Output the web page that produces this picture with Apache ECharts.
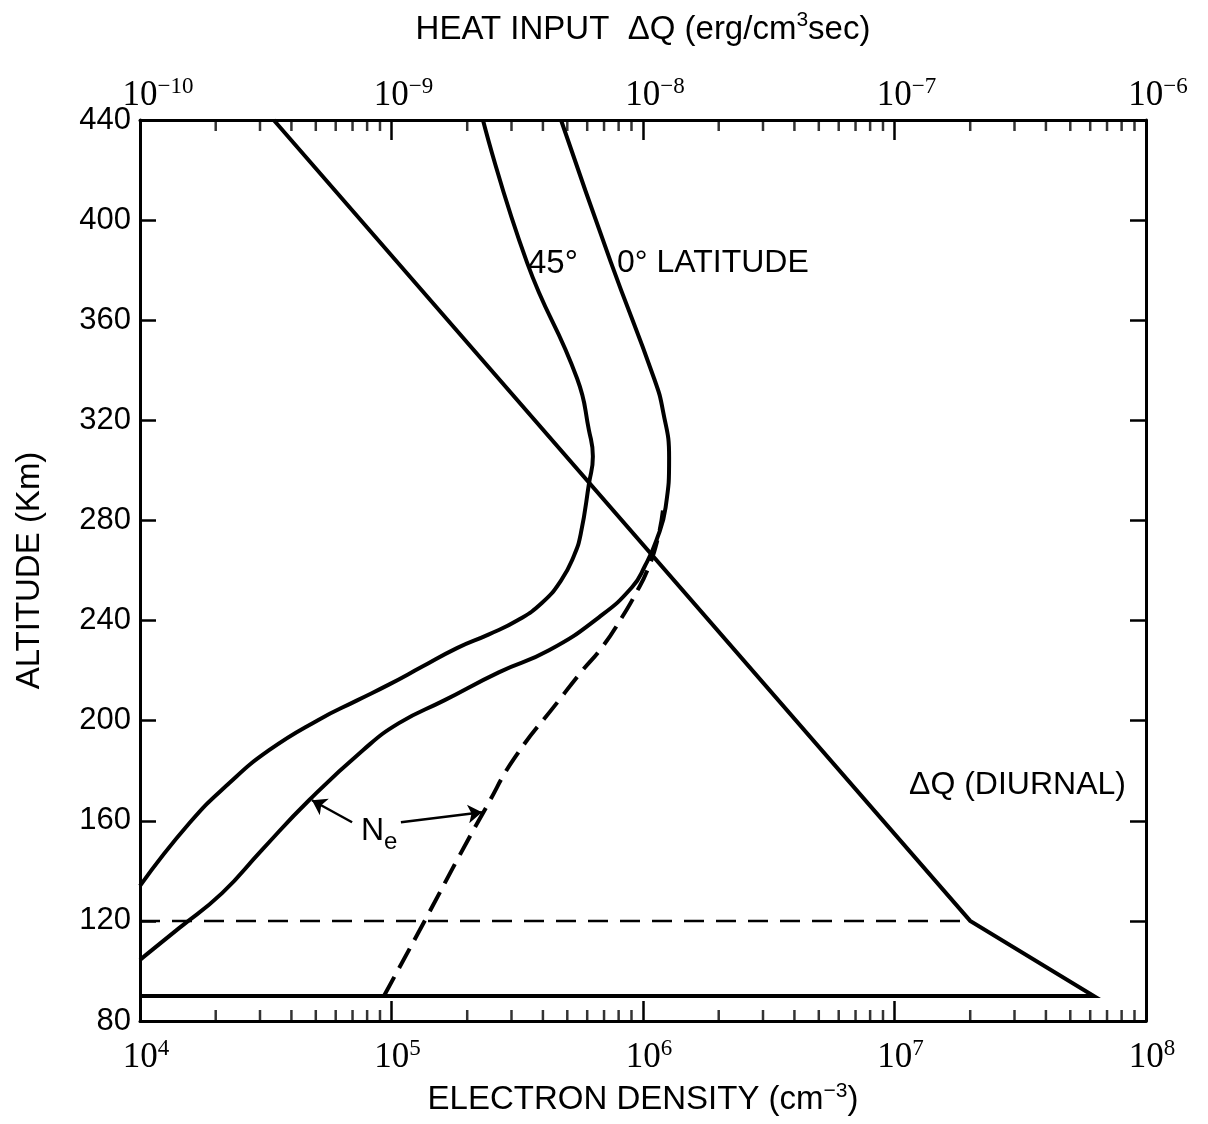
<!DOCTYPE html>
<html>
<head>
<meta charset="utf-8">
<title>Electron density and heat input vs altitude</title>
<script src="https://cdn.jsdelivr.net/npm/echarts@6/dist/echarts.min.js"></script>
<style>
  html, body { margin: 0; padding: 0; background: #fff; }
  #chart { width: 1208px; height: 1124px; }
</style>
</head>
<body>
<div id="chart"></div>
<script>
// altitude ticks (km)
const ALT_TICKS = [80, 120, 160, 200, 240, 280, 320, 360, 400, 440];

// N_e, 45 deg latitude  (altitude km / electron density cm^-3)
const LAT45_ALT = [440, 383, 336.7, 315.9, 305.5, 294.8, 274.8, 266, 256, 247, 240, 234.5, 229, 221.3, 214.5, 208.1, 200.2, 188.2, 175, 159, 134];
const LAT45_NE  = [2.31e5, 3.46e5, 5.47e5, 6.10e5, 6.32e5, 6.10e5, 5.66e5, 5.32e5, 4.72e5, 3.96e5, 3.16e5, 2.44e5, 1.82e5, 1.31e5, 9.8e4, 7.3e4, 5.1e4, 3.26e4, 2.26e4, 1.57e4, 1.0e4];

// N_e, 0 deg latitude
const LAT0_ALT = [440, 383, 336.7, 323.9, 305.1, 285.2, 272, 262, 253.3, 241.3, 228.1, 219.3, 208.1, 199, 188.2, 168.2, 148.3, 131.1, 117.1, 107.5, 104.4];
const LAT0_NE  = [4.72e5, 7.46e5, 1.107e6, 1.20e6, 1.27e6, 1.23e6, 1.13e6, 1.02e6, 9.04e5, 6.68e5, 4.23e5, 2.67e5, 1.62e5, 1.07e5, 7.7e4, 4.70e4, 3.05e4, 2.12e4, 1.43e4, 1.09e4, 1.0e4];

// N_e, dashed profile
const DASH_ALT = [90, 121.5, 145.5, 165.4, 185.4, 208.1, 219.3, 229.3, 241.3, 250.9, 260, 272, 284];
const DASH_NE  = [9.33e4, 1.38e5, 1.85e5, 2.38e5, 3.10e5, 4.63e5, 5.66e5, 6.87e5, 8.25e5, 9.37e5, 1.04e6, 1.14e6, 1.20e6];

// heat input dQ (diurnal), erg/cm^3 sec
const HEAT_ALT = [440, 120, 90, 90];
const HEAT_DQ  = [3.4e-10, 2.0e-7, 6.2e-7, 1.0e-10];

// dashed level at 120 km
const LEVEL120_NE = [1.0e4, 2.0e7];
const LEVEL120_ALT = [120, 120];

const TEXT_FONT = "'Liberation Sans Narrow', 'Liberation Sans', Arial, sans-serif";
const NUM_FONT = "'Liberation Serif', 'DejaVu Serif', serif";

const zip = (xs, ys) => xs.map((x, i) => [x, ys[i]]);

// minor log ticks 2..9 per decade
const minorTicks = (fromExp, toExp) => {
  const out = [];
  for (let e = fromExp; e < toExp; e++) {
    for (let k = 2; k <= 9; k++) out.push(k * Math.pow(10, e));
  }
  return out;
};

const powLabel = (value) => {
  const e = String(Math.round(Math.log10(value))).replace('-', '\u2212');
  return '{p' + e.length + '|}{b|10}{s|' + e + '}';
};

const powRich = {
  b: { fontFamily: NUM_FONT, fontSize: 35, lineHeight: 42, color: '#000' },
  s: { fontFamily: NUM_FONT, fontSize: 23, lineHeight: 20, verticalAlign: 'top', color: '#000' },
  p1: { width: 12 },
  p2: { width: 24 },
  p3: { width: 36 }
};

const chart = echarts.init(document.getElementById('chart'));

const axisLineStyle = { color: '#000', width: 3 };
const supRich = { s: { fontFamily: TEXT_FONT, fontSize: 21, lineHeight: 22, verticalAlign: 'top', color: '#000' } };

const option = {
  backgroundColor: '#fff',
  animation: false,
  grid: { left: 140, right: 62, top: 120, bottom: 103, outerBoundsMode: 'none', containLabel: false },
  xAxis: [
    {
      type: 'log',
      min: 1e4,
      max: 1e8,
      position: 'bottom',
      name: 'ELECTRON DENSITY (cm{s|\u22123})',
      nameLocation: 'middle',
      nameGap: 59,
      nameTextStyle: { fontFamily: TEXT_FONT, fontSize: 33, color: '#000', lineHeight: 40, rich: supRich },
      axisLine: { lineStyle: axisLineStyle },
      axisTick: { inside: true, length: 20, lineStyle: { width: 2.5, color: '#000' } },
      axisLabel: { margin: 16, fontFamily: NUM_FONT, fontSize: 35, color: '#000', formatter: powLabel, rich: powRich },
      splitLine: { show: false }
    },
    {
      type: 'log',
      min: 1e-10,
      max: 1e-6,
      position: 'top',
      name: 'HEAT INPUT  \u0394Q (erg/cm{s|3}sec)',
      nameLocation: 'middle',
      nameGap: 70,
      nameTextStyle: { fontFamily: TEXT_FONT, fontSize: 33, color: '#000', lineHeight: 40, rich: supRich },
      axisLine: { lineStyle: axisLineStyle },
      axisTick: { inside: true, length: 20, lineStyle: { width: 2.5, color: '#000' } },
      axisLabel: { margin: 3, fontFamily: NUM_FONT, fontSize: 35, color: '#000', formatter: powLabel, rich: powRich },
      splitLine: { show: false }
    }
  ],
  yAxis: [
    {
      type: 'value',
      min: ALT_TICKS[0],
      max: ALT_TICKS[ALT_TICKS.length - 1],
      interval: 40,
      position: 'left',
      name: 'ALTITUDE (Km)',
      nameLocation: 'middle',
      nameGap: 94,
      nameTextStyle: { fontFamily: TEXT_FONT, fontSize: 33, color: '#000' },
      axisLine: { lineStyle: axisLineStyle },
      axisTick: { inside: true, length: 16, lineStyle: { width: 2.5, color: '#000' } },
      axisLabel: { margin: 9, fontFamily: "'Liberation Sans', Arial, sans-serif", fontSize: 31, color: '#000' },
      splitLine: { show: false }
    },
    {
      type: 'value',
      min: ALT_TICKS[0],
      max: ALT_TICKS[ALT_TICKS.length - 1],
      interval: 40,
      position: 'right',
      axisLine: { show: true, lineStyle: axisLineStyle },
      axisTick: { show: true, inside: true, length: 16, lineStyle: { width: 2.5, color: '#000' } },
      axisLabel: { show: false },
      splitLine: { show: false }
    }
  ],
  series: [
    {
      name: 'minor ticks bottom',
      type: 'scatter',
      silent: true,
      clip: false,
      symbol: 'rect',
      symbolSize: [2.5, 11],
      symbolOffset: [0, -5.5],
      itemStyle: { color: '#000' },
      data: minorTicks(4, 8).map(v => [v, ALT_TICKS[0]])
    },
    {
      name: 'minor ticks top',
      type: 'scatter',
      xAxisIndex: 1,
      silent: true,
      clip: false,
      symbol: 'rect',
      symbolSize: [2.5, 11],
      symbolOffset: [0, 5.5],
      itemStyle: { color: '#000' },
      data: minorTicks(-10, -6).map(v => [v, ALT_TICKS[ALT_TICKS.length - 1]])
    },
    {
      name: 'Ne 45\u00b0',
      type: 'line',
      showSymbol: false,
      smooth: 0.5,
      lineStyle: { color: '#000', width: 4 },
      data: zip(LAT45_NE, LAT45_ALT)
    },
    {
      name: 'Ne 0\u00b0',
      type: 'line',
      showSymbol: false,
      smooth: 0.5,
      lineStyle: { color: '#000', width: 4 },
      data: zip(LAT0_NE, LAT0_ALT)
    },
    {
      name: 'Ne dashed',
      type: 'line',
      showSymbol: false,
      smooth: 0.5,
      lineStyle: { color: '#000', width: 4, type: [22, 10] },
      data: zip(DASH_NE, DASH_ALT)
    },
    {
      name: '120 km',
      type: 'line',
      showSymbol: false,
      lineStyle: { color: '#000', width: 2.5, type: [20, 12] },
      data: zip(LEVEL120_NE, LEVEL120_ALT)
    },
    {
      name: '\u0394Q (diurnal)',
      type: 'line',
      xAxisIndex: 1,
      showSymbol: false,
      lineStyle: { color: '#000', width: 4, join: 'miter' },
      data: zip(HEAT_DQ, HEAT_ALT)
    },
    {
      name: 'Ne arrows',
      type: 'lines',
      coordinateSystem: 'cartesian2d',
      silent: true,
      symbol: ['none', 'arrow'],
      symbolSize: 14,
      lineStyle: { color: '#000', width: 2.5, opacity: 1 },
      data: [
        { coords: [[6.97e4, 159.4], [4.83e4, 168.2]] },
        { coords: [[1.09e5, 159.4], [2.29e5, 163.4]] }
      ]
    }
  ],
  graphic: [
    { type: 'text', left: 528, top: 247, style: { text: '45\u00b0', fontFamily: TEXT_FONT, fontSize: 33, fill: '#000' } },
    { type: 'text', left: 617, top: 247, style: { text: '0\u00b0 LATITUDE', fontFamily: TEXT_FONT, fontSize: 32, fill: '#000' } },
    { type: 'text', left: 909, top: 769, style: { text: '\u0394Q (DIURNAL)', fontFamily: TEXT_FONT, fontSize: 32, fill: '#000' } },
    { type: 'text', left: 361, top: 815, style: { text: 'N', fontFamily: TEXT_FONT, fontSize: 32, fill: '#000' } },
    { type: 'text', left: 384, top: 830, style: { text: 'e', fontFamily: TEXT_FONT, fontSize: 24, fill: '#000' } }
  ]
};

chart.setOption(option);
</script>
</body>
</html>
